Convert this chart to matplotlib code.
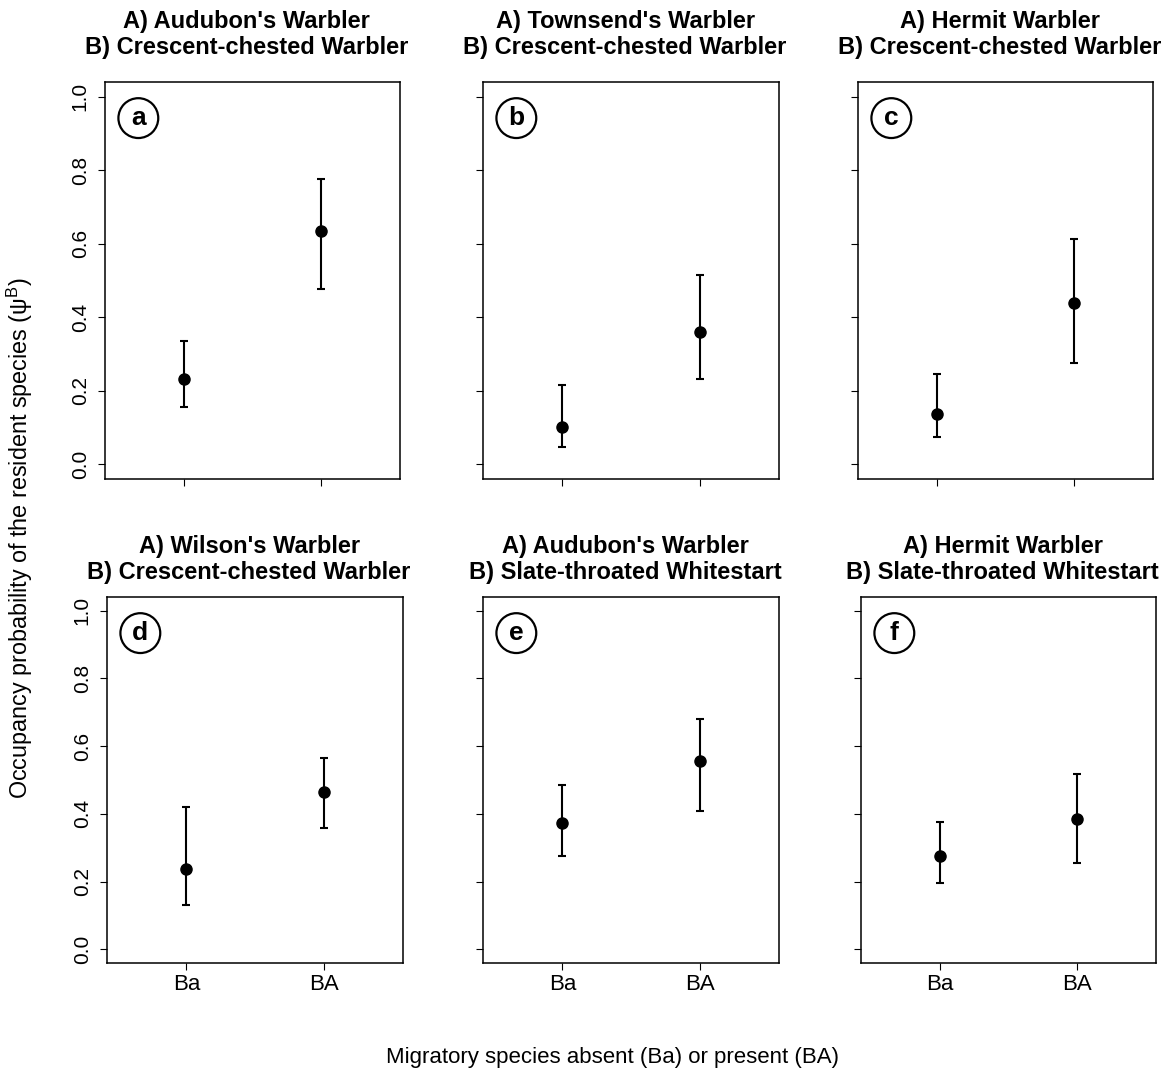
import matplotlib
matplotlib.use('Agg')
import matplotlib.pyplot as plt

plt.rcParams['font.family'] = ['Liberation Sans', 'DejaVu Sans']
plt.rcParams['mathtext.fontset'] = 'custom'
plt.rcParams['mathtext.rm'] = 'Liberation Sans'

# occupancy of the resident species with the migrant absent (Ba) / present (BA)
groups = ['Ba', 'BA']
panel_ids = ['a', 'b', 'c', 'd', 'e', 'f']
species_a = ["Audubon's Warbler", "Townsend's Warbler", "Hermit Warbler",
             "Wilson's Warbler", "Audubon's Warbler", "Hermit Warbler"]
species_b = ["Crescent-chested Warbler", "Crescent-chested Warbler", "Crescent-chested Warbler",
             "Crescent-chested Warbler", "Slate-throated Whitestart", "Slate-throated Whitestart"]

psi = [[0.232, 0.636], [0.102, 0.361], [0.138, 0.439],
       [0.238, 0.466], [0.373, 0.556], [0.276, 0.384]]
psi_lo = [[0.155, 0.477], [0.046, 0.233], [0.073, 0.275],
          [0.130, 0.359], [0.276, 0.408], [0.196, 0.255]]
psi_hi = [[0.336, 0.775], [0.216, 0.514], [0.246, 0.614],
          [0.420, 0.566], [0.484, 0.680], [0.376, 0.518]]

yticks = [0.0, 0.2, 0.4, 0.6, 0.8, 1.0]

W, H = 1175, 1084
fig = plt.figure(figsize=(W / 100, H / 100), dpi=100)

# panel boxes in pixels: left, top, right, bottom
boxes = [(105, 82, 400, 479), (483, 82, 779, 479), (858, 82, 1153, 479),
         (107, 597, 403, 963), (483, 597, 779, 963), (861, 597, 1156, 963)]

for i, (l, t, r, b) in enumerate(boxes):
    ax = fig.add_axes([l / W, 1 - b / H, (r - l) / W, (b - t) / H])
    x = [1, 2]
    lo = [psi[i][k] - psi_lo[i][k] for k in range(2)]
    hi = [psi_hi[i][k] - psi[i][k] for k in range(2)]
    ax.errorbar(x, psi[i], yerr=[lo, hi], fmt='o', color='black', ms=8,
                elinewidth=1.5, capsize=3, capthick=1.5)
    ax.set_xlim(0.42, 2.58)
    ax.set_ylim(-0.04, 1.04)
    ax.set_xticks(x)
    ax.set_yticks(yticks)
    for s in ax.spines.values():
        s.set_linewidth(1.1)
    ax.tick_params(direction='out', length=5, width=0.8)
    ax.tick_params(axis='y', pad=6, labelsize=15)
    ax.tick_params(axis='x', pad=3, labelsize=16)
    if i % 3 == 0:
        ax.set_yticklabels(['%.1f' % v for v in yticks])
        plt.setp(ax.get_yticklabels(), rotation=90, va='center')
    else:
        ax.set_yticklabels([])
    if i >= 3:
        ax.set_xticklabels(groups)
    else:
        ax.set_xticklabels([])
    ax.set_title('A) %s\nB) %s' % (species_a[i], species_b[i]), x=0.48,
                 fontsize=17, fontweight='bold', pad=20 if i < 3 else 13,
                 linespacing=1.17)
    ax.annotate(panel_ids[i], xy=(0, 1), xycoords='axes fraction',
                xytext=(24, -26), textcoords='offset points',
                ha='center', va='center', fontsize=19, fontweight='bold',
                bbox=dict(boxstyle='circle,pad=0.3', fc='white', ec='black', lw=1.6))

fig.text(20 / W, 1 - 538 / H, 'Occupancy probability of the resident species (ψ$^{\\rm B}$)',
         rotation=90, ha='center', va='center', fontsize=16.8)
fig.text(613 / W, 1 - 1058 / H, 'Migratory species absent (Ba) or present (BA)',
         ha='center', va='center', fontsize=16)

fig.savefig('out.png', dpi=100)
